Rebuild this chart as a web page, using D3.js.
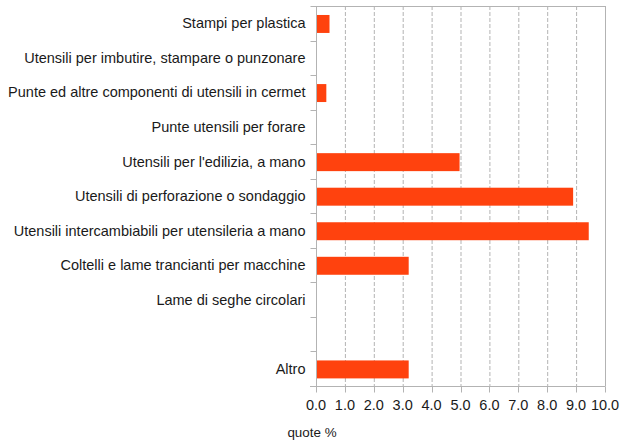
<!DOCTYPE html>
<html><head><meta charset="utf-8">
<script src="https://cdn.jsdelivr.net/npm/d3@7"></script>
<style>body{margin:0;background:#fff;}svg{display:block;font-family:"Liberation Sans",Arial,sans-serif;}</style>
</head><body>
<svg id="chart" width="622" height="440"></svg>
<script>
const categories = [
  "Stampi per plastica",
  "Utensili per imbutire, stampare o punzonare",
  "Punte ed altre componenti di utensili in cermet",
  "Punte utensili per forare",
  "Utensili per l'edilizia, a mano",
  "Utensili di perforazione o sondaggio",
  "Utensili intercambiabili per utensileria a mano",
  "Coltelli e lame trancianti per macchine",
  "Lame di seghe circolari",
  "",
  "Altro"
];
const values = [0.45, 0, 0.34, 0, 4.95, 8.88, 9.42, 3.19, 0, null, 3.19];
const xTicks = [0,1,2,3,4,5,6,7,8,9,10];
const xTitle = "quote %";

const svg = d3.select("#chart");
const m = {left:316, right:605, top:6, bottom:386};
const x = d3.scaleLinear().domain([0,10]).range([m.left, m.right]);
const keys = categories.map((c,i)=>i);
const y = d3.scaleBand().domain(keys).range([m.top, m.bottom]).paddingInner(0).paddingOuter(0);
const grid = "#b3b3b3";
const fs = 14.5;

// gridlines
svg.append("g").selectAll("line").data(xTicks.slice(1,-1)).join("line")
  .attr("x1", d=>x(d)+0.5).attr("x2", d=>x(d)+0.5)
  .attr("y1", m.top).attr("y2", m.bottom)
  .attr("stroke", grid).attr("stroke-dasharray","4,2");
// frame top & right
svg.append("line").attr("x1", m.left).attr("x2", m.right+0.5).attr("y1", m.top+0.5).attr("y2", m.top+0.5).attr("stroke", grid);
svg.append("line").attr("x1", m.right+0.5).attr("x2", m.right+0.5).attr("y1", m.top).attr("y2", m.bottom).attr("stroke", grid);

// bars
const band = y.bandwidth();
svg.append("g").selectAll("rect").data(values.map((v,i)=>({v,i})).filter(d=>d.v)).join("rect")
  .attr("x", x(0)+0.5).attr("width", d=>x(d.v)-x(0))
  .attr("y", d=>y(d.i)+band*0.26).attr("height", band*0.52)
  .attr("fill", "#ff420e");

// y axis
const yAxis = svg.append("g").attr("transform", `translate(${m.left+0.5},0)`);
yAxis.append("line").attr("y1", m.top).attr("y2", m.bottom+6).attr("stroke", grid);
const bounds = d3.range(categories.length+1).map(i=>m.top + i*band);
yAxis.selectAll("line.t").data(bounds).join("line").attr("class","t")
  .attr("x1",-6).attr("x2",0).attr("y1",d=>Math.round(d)+0.5).attr("y2",d=>Math.round(d)+0.5).attr("stroke",grid);
yAxis.selectAll("text").data(categories).join("text")
  .attr("x", -11).attr("y", (d,i)=>y(i)+band/2).attr("dy","0.35em")
  .attr("text-anchor","end").attr("font-size",fs).attr("fill","#1a1a1a").text(d=>d);

// x axis
const xAxis = svg.append("g").attr("transform", `translate(0,${m.bottom+0.5})`);
xAxis.append("line").attr("x1", m.left-6).attr("x2", m.right+0.5).attr("stroke", grid);
xAxis.selectAll("line.t").data(xTicks).join("line").attr("class","t")
  .attr("x1",d=>Math.round(x(d))+0.5).attr("x2",d=>Math.round(x(d))+0.5).attr("y1",0).attr("y2",6).attr("stroke",grid);
xAxis.selectAll("text").data(xTicks).join("text")
  .attr("x", d=>x(d)).attr("y", 23.5).attr("text-anchor","middle").attr("font-size",fs).attr("fill","#1a1a1a")
  .text(d=>d3.format(".1f")(d));

svg.append("text").attr("x", 312).attr("y", 437).attr("text-anchor","middle").attr("font-size",13.4).attr("fill","#1a1a1a").text(xTitle);
</script>
</body></html>
